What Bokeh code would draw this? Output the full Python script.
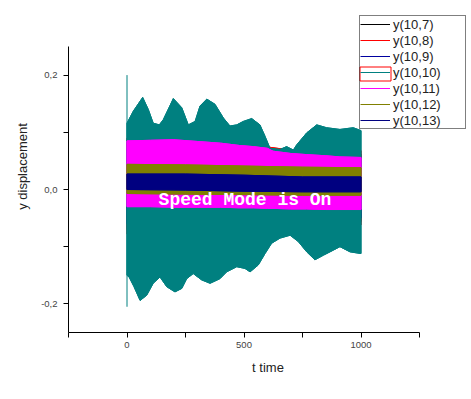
from bokeh.plotting import figure
from bokeh.models import (Range1d, FixedTicker, CustomJSTickFormatter, Legend,
                          LegendItem, Label)
from bokeh.embed import file_html
from bokeh.resources import INLINE

# ---------------- data (envelopes) ----------------
series_names = ["y(10,7)", "y(10,8)", "y(10,9)", "y(10,10)", "y(10,11)", "y(10,12)", "y(10,13)"]
series_colors = ["#000000", "#FF0000", "#0000A0", "#008080", "#FF00FF", "#808000", "#000080"]

# y(10,7) .. y(10,9): hidden below y(10,10)
t_hidden = [0, 250, 500, 750, 1000]
y7_hi = [0.080, 0.078, 0.072, 0.060, 0.062]
y7_lo = [-0.070, -0.068, -0.062, -0.055, -0.056]
y8_hi = [0.090, 0.088, 0.080, 0.066, 0.068]
y8_lo = [-0.078, -0.076, -0.070, -0.060, -0.062]
y9_hi = [0.070, 0.068, 0.064, 0.055, 0.056]
y9_lo = [-0.060, -0.058, -0.054, -0.050, -0.050]

# y(10,10)
t10_hi = [0, 27, 67, 91, 112, 138, 155, 198, 234, 262, 291, 312, 341, 376, 412, 440,
          469, 497, 533, 568, 590, 611, 654, 682, 711, 725, 768, 811, 853, 910, 967, 1000]
y10_hi = [0.116, 0.137, 0.161, 0.140, 0.116, 0.113, 0.122, 0.159, 0.143, 0.113, 0.119,
          0.146, 0.158, 0.149, 0.125, 0.111, 0.113, 0.119, 0.124, 0.113, 0.093, 0.072,
          0.070, 0.075, 0.069, 0.078, 0.099, 0.113, 0.108, 0.105, 0.108, 0.103]
t10_lo = [0, 9, 30, 56, 84, 112, 141, 170, 205, 234, 255, 283, 319, 355, 397, 426,
          469, 504, 526, 561, 590, 618, 654, 697, 732, 768, 803, 839, 882, 910, 953, 1000]
y10_lo = [-0.150, -0.153, -0.170, -0.194, -0.185, -0.164, -0.153, -0.170, -0.179, -0.173,
          -0.156, -0.147, -0.158, -0.164, -0.156, -0.144, -0.135, -0.138, -0.144, -0.132,
          -0.112, -0.094, -0.085, -0.080, -0.091, -0.109, -0.123, -0.115, -0.106, -0.100,
          -0.109, -0.112]
t10_spike = [0]
y10_spike_hi = [0.200]
y10_spike_lo = [-0.205]

# y(10,11)
t11 = [0, 100, 200, 300, 400, 480, 540, 600, 624, 700, 768, 850, 910, 1000]
y11_hi = [0.085, 0.086, 0.087, 0.084, 0.081, 0.077, 0.075, 0.072, 0.067, 0.063,
          0.061, 0.059, 0.057, 0.056]
y11_lo = [-0.030, -0.030, -0.031, -0.031, -0.031, -0.032, -0.032, -0.033, -0.033,
          -0.034, -0.034, -0.035, -0.035, -0.035]

# y(10,12)
t12 = [0, 250, 500, 750, 1000]
y12_hi = [0.044, 0.043, 0.041, 0.039, 0.038]
y12_lo = [-0.007, -0.008, -0.009, -0.010, -0.010]

# y(10,13)
t13 = [0, 250, 500, 750, 1000]
y13_hi = [0.027, 0.027, 0.025, 0.022, 0.022]
y13_lo = [0.000, -0.001, -0.003, -0.004, -0.004]

x_axis_bounds = (-250, 1250)
y_axis_bounds = (-0.25, 0.25)
x_major = [0, 500, 1000]
x_minor = [-250, 250, 750, 1250]
y_major = [-0.2, 0.0, 0.2]
y_minor = [-0.1, 0.1]

# ---------------- layout ----------------
W, H = 468, 396
LEFT, BOTTOM = 68, 64          # frame left / bottom borders (px)
AX_PX, AY_PX = 351, 286        # pixel length of the drawn axes
RIGHT, TOP = 1, 0              # frame extended so legend is not clipped
frame_w = W - LEFT - RIGHT
frame_h = H - BOTTOM - TOP
x0, x1 = x_axis_bounds
y0, y1 = y_axis_bounds
x_end = x0 + (x1 - x0) * frame_w / AX_PX
y_end = y0 + (y1 - y0) * frame_h / AY_PX

p = figure(width=W, height=H, output_backend="svg", toolbar_location=None,
           x_range=Range1d(x0, x_end), y_range=Range1d(y0, y_end),
           min_border_left=LEFT, min_border_right=RIGHT, min_border_top=TOP,
           min_border_bottom=BOTTOM)
p.outline_line_color = None
p.xgrid.visible = False
p.ygrid.visible = False
p.background_fill_color = "white"
p.border_fill_color = "white"

band_sets = [
    (t_hidden, y7_hi, t_hidden, y7_lo),
    (t_hidden, y8_hi, t_hidden, y8_lo),
    (t_hidden, y9_hi, t_hidden, y9_lo),
    (t10_hi, y10_hi, t10_lo, y10_lo),
    (t11, y11_hi, t11, y11_lo),
    (t12, y12_hi, t12, y12_lo),
    (t13, y13_hi, t13, y13_lo),
]

legend_items = []
for name, color, (th, yh, tl, yl) in zip(series_names, series_colors, band_sets):
    xs = list(th) + list(tl)[::-1]
    ys = list(yh) + list(yl)[::-1]
    p.patch(xs, ys, fill_color=color, line_color=color, line_width=1)
    r = p.line(xs + [xs[0]], ys + [ys[0]], line_color=color, line_width=1)
    if name == "y(10,10)":
        p.segment(x0=t10_spike, y0=y10_spike_lo, x1=t10_spike, y1=y10_spike_hi,
                  line_color=color, line_width=1)
    legend_items.append(LegendItem(label=name, renderers=[r]))

# red selection marker round the y(10,10) legend sample
# (pixel offsets from the frame's bottom-left, converted through the axis scale)
SEL_L, SEL_R, SEL_T, SEL_B = 291.5, 322.5, 265.5, 251.5
sx = (x1 - x0) / AX_PX
sy = (y1 - y0) / AY_PX
p.quad(left=[x0 + SEL_L * sx], right=[x0 + SEL_R * sx],
       top=[y0 + SEL_T * sy], bottom=[y0 + SEL_B * sy],
       fill_alpha=0, line_color="#FF0000", line_width=1)

# ---------------- axes ----------------
for ax in (p.xaxis[0], p.yaxis[0]):
    ax.axis_line_color = "black"
    ax.axis_line_width = 1
    ax.major_tick_line_color = "black"
    ax.minor_tick_line_color = "black"
    ax.major_tick_out = 5
    ax.major_tick_in = 0
    ax.minor_tick_out = 5
    ax.minor_tick_in = 0
    ax.major_label_text_font = "Liberation Sans"
    ax.major_label_text_font_size = "9.5px"
    ax.major_label_text_color = "#444444"
    ax.axis_label_text_font = "Liberation Sans"
    ax.axis_label_text_font_size = "13px"
    ax.axis_label_text_font_style = "normal"
    ax.axis_label_text_color = "#222222"

p.xaxis[0].bounds = x_axis_bounds
p.yaxis[0].bounds = y_axis_bounds
p.xaxis[0].ticker = FixedTicker(ticks=x_major, minor_ticks=x_minor)
p.yaxis[0].ticker = FixedTicker(ticks=y_major, minor_ticks=y_minor)
p.yaxis[0].formatter = CustomJSTickFormatter(
    code="return tick.toFixed(1).replace('.', ',');")
p.xaxis[0].axis_label = "t time"
p.yaxis[0].axis_label = "y displacement"
p.xaxis[0].major_label_standoff = 4
p.yaxis[0].major_label_standoff = 6
p.xaxis[0].axis_label_standoff = 9
p.yaxis[0].axis_label_standoff = 8

# ---------------- legend ----------------
legend = Legend(items=legend_items, location=(291, 203), orientation="vertical",
                border_line_color="black", border_line_width=1,
                background_fill_alpha=0.0,
                label_text_font="Liberation Sans", label_text_font_size="13px",
                label_text_color="#222222", glyph_width=30, glyph_height=16,
                label_height=16, label_width=72, label_standoff=3,
                spacing=0, padding=0, margin=0)
p.add_layout(legend, "center")

# ---------------- speed mode text ----------------
p.add_layout(Label(x=176.5, y=133, x_units="screen", y_units="screen",
                   text="Speed Mode is On", text_align="center",
                   text_baseline="alphabetic", text_color="white",
                   text_font="Liberation Mono", text_font_size="18px",
                   text_font_style="bold"))

open("out.html", "w").write(file_html(p, INLINE))
